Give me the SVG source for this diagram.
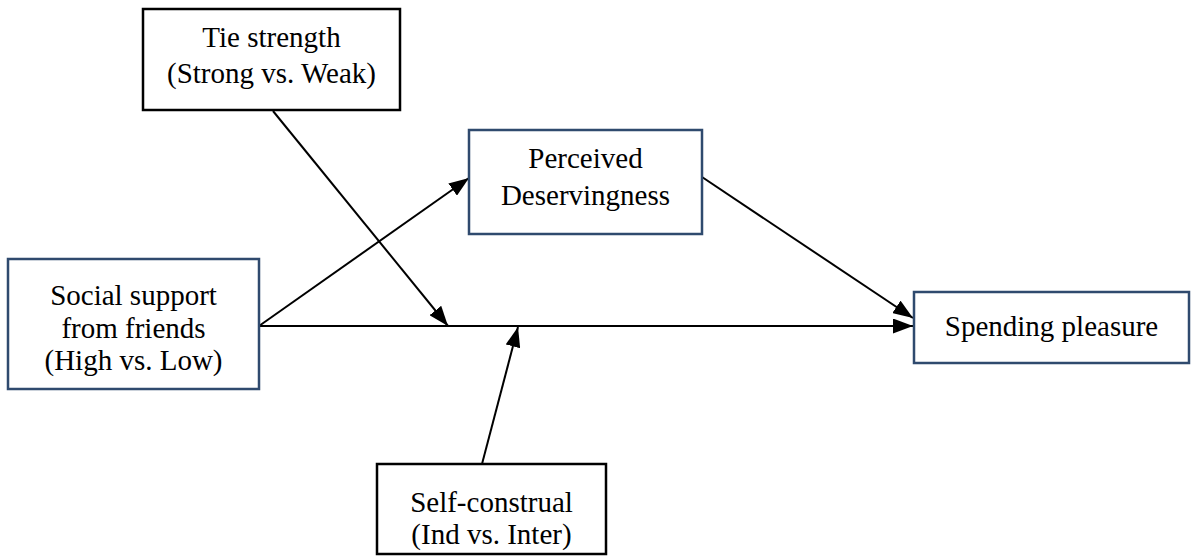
<svg xmlns="http://www.w3.org/2000/svg" width="1192" height="557" viewBox="0 0 1192 557">
<style>
.blue{fill:#fff;stroke:#2F4A6E;stroke-width:2.5}
.black{fill:#fff;stroke:#000;stroke-width:2.5}
text{font-family:"Liberation Serif","Times New Roman",serif;font-size:29px;fill:#000;text-anchor:middle}
.conn line{stroke:#000;stroke-width:2;marker-end:url(#ah)}
</style>
<defs>
<marker id="ah" viewBox="0 0 10 10" refX="10" refY="5" markerWidth="10" markerHeight="7.5" orient="auto" markerUnits="strokeWidth" preserveAspectRatio="none">
<path d="M0,0 L10,5 L0,10 z" fill="#000"/>
</marker>
</defs>
<rect width="1192" height="557" fill="#fff"/>
<g class="conn">
<line x1="259" y1="326" x2="913" y2="326"/>
<line x1="259" y1="326" x2="469" y2="178"/>
<line x1="702" y1="177" x2="913" y2="318"/>
<line x1="273" y1="111" x2="448" y2="326"/>
<line x1="482" y1="464" x2="518" y2="327"/>
</g>
<g id="tie">
<rect class="black" x="143" y="9" width="257" height="101"/>
<text x="271.5" y="47">Tie strength</text>
<text x="271.5" y="83">(Strong vs. Weak)</text>
</g>
<g id="perceived">
<rect class="blue" x="469" y="130" width="233" height="104"/>
<text x="585.5" y="168">Perceived</text>
<text x="585.5" y="205">Deservingness</text>
</g>
<g id="social">
<rect class="blue" x="8" y="259" width="251" height="130"/>
<text x="133.5" y="305">Social support</text>
<text x="133.5" y="338">from friends</text>
<text x="133.5" y="370">(High vs. Low)</text>
</g>
<g id="spending">
<rect class="blue" x="914" y="292" width="275" height="71"/>
<text x="1051.5" y="336">Spending pleasure</text>
</g>
<g id="self">
<rect class="black" x="377" y="464" width="229" height="90"/>
<text x="491.5" y="512">Self-construal</text>
<text x="491.5" y="544">(Ind vs. Inter)</text>
</g>
</svg>
